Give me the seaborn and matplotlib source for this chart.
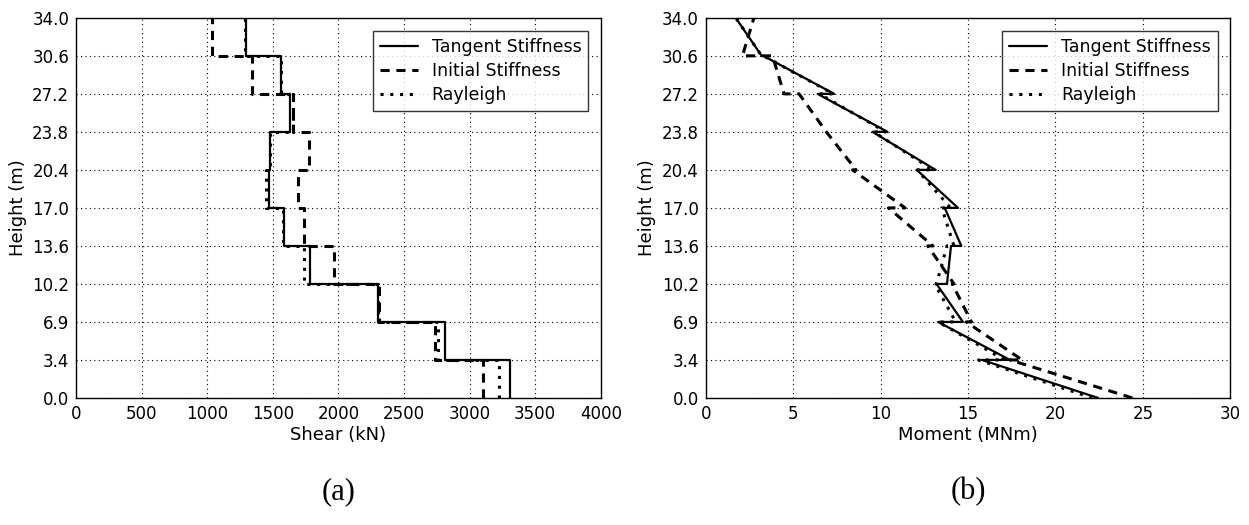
import matplotlib
matplotlib.use('Agg')
import matplotlib.pyplot as plt
import seaborn as sns
import numpy as np

# Floor levels (m) and the labels printed on the height axis
heights = [0.0, 3.4, 6.8, 10.2, 13.6, 17.0, 20.4, 23.8, 27.2, 30.6, 34.0]
height_labels = ['0.0', '3.4', '6.9', '10.2', '13.6', '17.0', '20.4', '23.8', '27.2', '30.6', '34.0']

# Storey shear (kN), storey 1 (bottom) to storey 10 (top)
shear_tangent = [3308, 2812, 2300, 1780, 1588, 1468, 1480, 1630, 1560, 1292]
shear_initial = [3104, 2735, 2308, 1966, 1740, 1690, 1776, 1657, 1341, 1032]
shear_rayleigh = [3224, 2760, 2300, 1735, 1576, 1447, 1480, 1650, 1564, 1290]

# Storey moment (MNm) at the bottom and top of each storey, storey 1 to 10
moment_tangent_bot = [22.44, 17.40, 14.71, 13.80, 14.62, 14.43, 13.15, 10.40, 7.35, 3.20]
moment_tangent_top = [15.80, 13.29, 13.20, 14.03, 13.67, 12.07, 9.54, 6.40, 3.30, 1.72]
moment_initial_bot = [24.40, 18.10, 15.20, 14.20, 13.00, 11.40, 8.60, 6.90, 4.48, 2.10]
moment_initial_top = [17.40, 14.90, 14.10, 12.70, 10.45, 8.40, 6.90, 5.34, 3.82, 2.76]
moment_rayleigh_bot = [22.10, 17.10, 14.30, 13.20, 14.20, 14.00, 13.00, 10.30, 7.30, 3.20]
moment_rayleigh_top = [15.60, 13.30, 13.10, 13.80, 13.50, 12.10, 9.60, 6.50, 3.30, 1.72]

series_names = ['Tangent Stiffness', 'Initial Stiffness', 'Rayleigh']
line_styles = ['-', (0, (3, 2.2)), (0, (1, 2.2))]
line_widths = [1.6, 2.2, 2.2]


def step_path(values):
    # constant value over each storey -> vertical segments joined at floor levels
    xs, ys = [], []
    for i, v in enumerate(values):
        xs += [v, v]
        ys += [heights[i], heights[i + 1]]
    return np.array(xs), np.array(ys)


def linear_path(bot, top):
    xs, ys = [], []
    for i in range(len(bot)):
        xs += [bot[i], top[i]]
        ys += [heights[i], heights[i + 1]]
    return np.array(xs), np.array(ys)


sns.set_style('white')
plt.rcParams['font.family'] = ['DejaVu Sans']
plt.rcParams['text.color'] = 'black'
plt.rcParams['axes.labelcolor'] = 'black'
plt.rcParams['xtick.color'] = 'black'
plt.rcParams['ytick.color'] = 'black'

fig = plt.figure(figsize=(12.49, 5.25), dpi=100)
ax_a = fig.add_axes([0.061, 0.242, 0.420, 0.724])
ax_b = fig.add_axes([0.565, 0.242, 0.420, 0.724])

shear_sets = [shear_tangent, shear_initial, shear_rayleigh]
moment_sets = [(moment_tangent_bot, moment_tangent_top),
               (moment_initial_bot, moment_initial_top),
               (moment_rayleigh_bot, moment_rayleigh_top)]

for name, vals, ls, lw in zip(series_names, shear_sets, line_styles, line_widths):
    x, y = step_path(vals)
    sns.lineplot(x=x, y=y, sort=False, estimator=None, ax=ax_a, color='black',
                 linestyle=ls, linewidth=lw, label=name)

for name, (bot, top), ls, lw in zip(series_names, moment_sets, line_styles, line_widths):
    x, y = linear_path(bot, top)
    sns.lineplot(x=x, y=y, sort=False, estimator=None, ax=ax_b, color='black',
                 linestyle=ls, linewidth=lw, label=name)

for ax, xlim, xticks, xlabel in [(ax_a, (0, 4000), np.arange(0, 4001, 500), 'Shear (kN)'),
                                 (ax_b, (0, 30), np.arange(0, 31, 5), 'Moment (MNm)')]:
    ax.set_xlim(*xlim)
    ax.set_ylim(0, 34)
    ax.set_xticks(xticks)
    ax.set_yticks(heights)
    ax.set_yticklabels(height_labels)
    ax.set_xlabel(xlabel, fontsize=13, labelpad=2)
    ax.set_ylabel('Height (m)', fontsize=13, labelpad=4)
    ax.tick_params(labelsize=12, length=0, pad=5)
    ax.grid(True, color='black', linestyle=(0, (1, 3)), linewidth=0.8)
    for sp in ax.spines.values():
        sp.set_color('black')
        sp.set_linewidth(1.0)
    leg = ax.legend(loc='upper right', fontsize=12.5, frameon=True, fancybox=False,
                    handlelength=2.2, borderpad=0.4, labelspacing=0.35,
                    bbox_to_anchor=(0.993, 0.988))
    leg.get_frame().set_edgecolor('black')
    leg.get_frame().set_linewidth(1.0)

fig.text(0.271, 0.035, '(a)', ha='center', va='bottom', fontsize=22, family='Liberation Serif')
fig.text(0.775, 0.035, '(b)', ha='center', va='bottom', fontsize=22, family='Liberation Serif')

fig.savefig('out.png', dpi=100)
